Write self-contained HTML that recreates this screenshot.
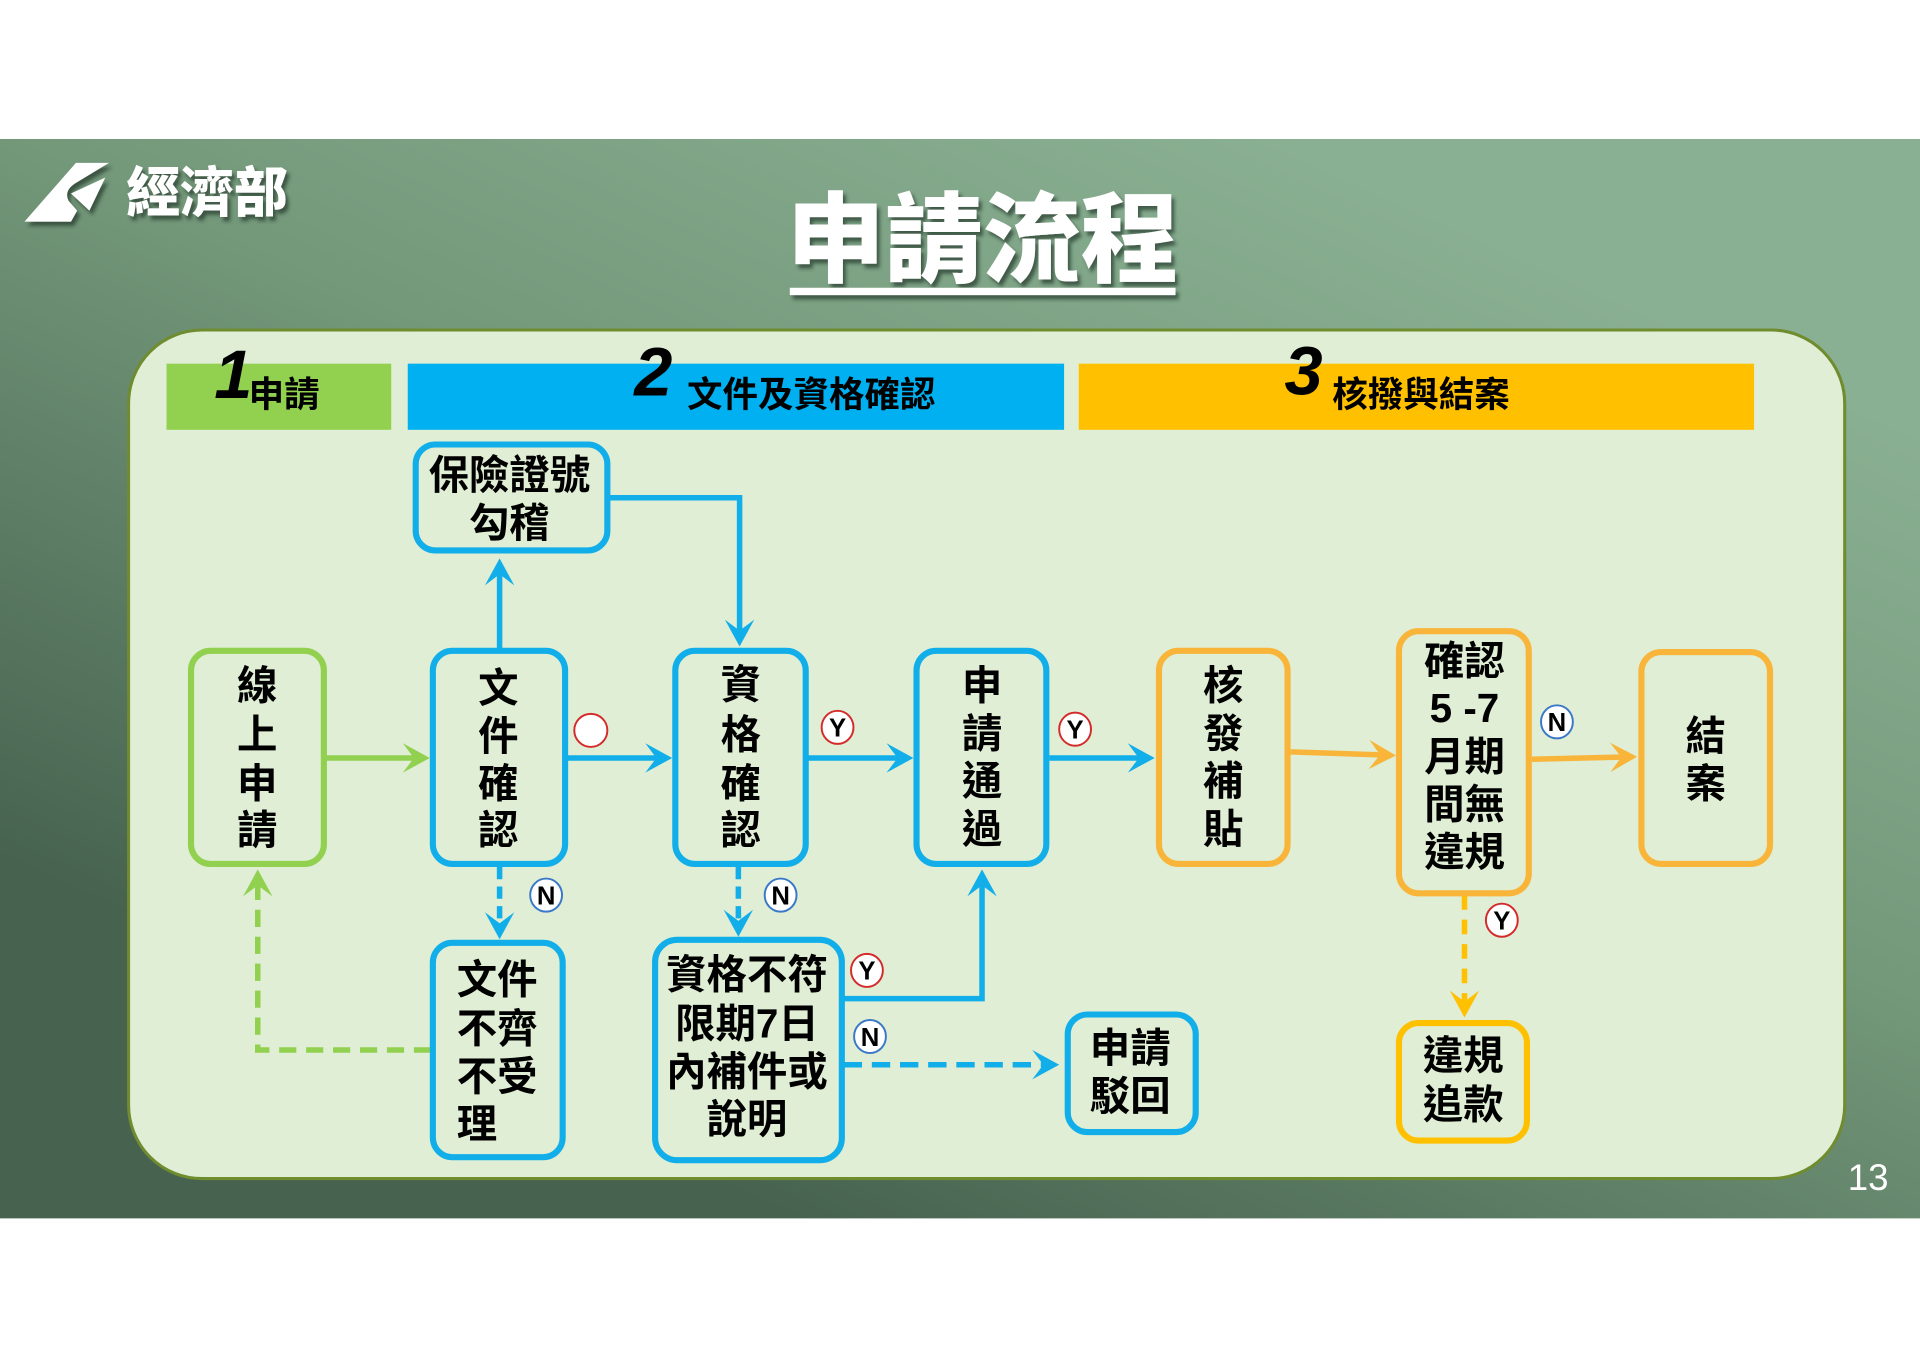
<!DOCTYPE html>
<html><head><meta charset="utf-8">
<style>
html,body{margin:0;padding:0;background:#fff;}
svg{display:block;}
.t{font-family:"Liberation Sans","Noto Sans CJK TC",sans-serif;font-weight:700;font-size:33px;text-anchor:middle;dominant-baseline:central;fill:#000;}
.tl{font-family:"Liberation Sans","Noto Sans CJK TC",sans-serif;font-weight:700;font-size:33px;text-anchor:start;dominant-baseline:central;fill:#000;}
.h{font-family:"Liberation Sans","Noto Sans CJK TC",sans-serif;font-weight:700;font-size:29px;text-anchor:start;dominant-baseline:central;fill:#000;}
.num{font-family:"Liberation Sans",sans-serif;font-weight:700;font-style:italic;font-size:56px;fill:#000;}
.yn{font-family:"Liberation Sans",sans-serif;font-weight:700;font-size:21px;text-anchor:middle;dominant-baseline:central;fill:#000;}
</style></head>
<body>
<svg width="1920" height="1357" viewBox="0 0 1568 1108.2" xmlns="http://www.w3.org/2000/svg">
<defs>
  <linearGradient id="bg" gradientUnits="userSpaceOnUse" x1="1050" y1="113" x2="650" y2="995">
    <stop offset="0" stop-color="#8ab093"/>
    <stop offset="0.45" stop-color="#739779"/>
    <stop offset="1" stop-color="#476350"/>
  </linearGradient>
  <filter id="sh" x="-10%" y="-20%" width="130%" height="150%">
    <feDropShadow dx="2.5" dy="3.5" stdDeviation="1.6" flood-color="#1d3322" flood-opacity="0.65"/>
  </filter>
  <marker id="mb" markerUnits="userSpaceOnUse" viewBox="-24 -13 26 26" refX="-10" refY="0" markerWidth="26" markerHeight="26" orient="auto">
    <path d="M0 0L-22 -12L-13 0L-22 12Z" fill="#12aeea"/></marker>
  <marker id="mg" markerUnits="userSpaceOnUse" viewBox="-24 -13 26 26" refX="-10" refY="0" markerWidth="26" markerHeight="26" orient="auto">
    <path d="M0 0L-22 -12L-13 0L-22 12Z" fill="#92d050"/></marker>
  <marker id="mo" markerUnits="userSpaceOnUse" viewBox="-24 -13 26 26" refX="-10" refY="0" markerWidth="26" markerHeight="26" orient="auto">
    <path d="M0 0L-22 -12L-13 0L-22 12Z" fill="#f8b53a"/></marker>
  <marker id="my" markerUnits="userSpaceOnUse" viewBox="-24 -13 26 26" refX="-10" refY="0" markerWidth="26" markerHeight="26" orient="auto">
    <path d="M0 0L-22 -12L-13 0L-22 12Z" fill="#ffc000"/></marker>
</defs>

<!-- background band -->
<rect x="0" y="0" width="1568" height="1108.2" fill="#fff"/>
<rect x="0" y="113.5" width="1568" height="881.5" fill="url(#bg)"/>

<!-- logo -->
<g filter="url(#sh)" fill="#fff">
  <path d="M62 133 L89 133 L61 150 Q52 156 56 164 L63 172 L58 181 L20 181 Z"/>
  <path d="M58 158 L86 145 L73 172 Z"/>
  <text x="103" y="158" style="font-family:'Liberation Sans','Noto Sans CJK TC',sans-serif;font-weight:900;font-size:44px;dominant-baseline:central;fill:#fff;">經濟部</text>
</g>

<!-- title -->
<g filter="url(#sh)">
  <text x="802.5" y="196" style="font-family:'Liberation Sans','Noto Sans CJK TC',sans-serif;font-weight:900;font-size:80px;text-anchor:middle;dominant-baseline:central;fill:#fff;">申請流程</text>
  <rect x="645" y="235" width="315" height="6" fill="#fff"/>
</g>

<!-- panel -->
<rect x="105" y="269.5" width="1401.5" height="693" rx="60" ry="60" fill="#dfeed4" stroke="#6f8c2f" stroke-width="2.5"/>

<!-- header bars -->
<rect x="136" y="297" width="183.5" height="54" fill="#92d050"/>
<rect x="333" y="297" width="536" height="54" fill="#00b0f0"/>
<rect x="881" y="297" width="551.5" height="54" fill="#ffc000"/>
<text class="num" x="175" y="325">1</text>
<text class="h" x="203" y="322">申請</text>
<text class="num" x="518" y="323">2</text>
<text class="h" x="561" y="322">文件及資格確認</text>
<text class="num" x="1049" y="322">3</text>
<text class="h" x="1088" y="322">核撥與結案</text>

<!-- connectors -->
<g fill="none" stroke-width="4.5" stroke-linejoin="miter">
  <path d="M265 619 H341" stroke="#92d050" marker-end="url(#mg)"/>
  <path d="M462 619 H539" stroke="#12aeea" marker-end="url(#mb)"/>
  <path d="M659 619 H736" stroke="#12aeea" marker-end="url(#mb)"/>
  <path d="M857 619 H933" stroke="#12aeea" marker-end="url(#mb)"/>
  <path d="M1054 614 L1130 616.6" stroke="#f8b53a" marker-end="url(#mo)"/>
  <path d="M1251 620 L1327 618.2" stroke="#f8b53a" marker-end="url(#mo)"/>
  <path d="M408 531 V466" stroke="#12aeea" marker-end="url(#mb)"/>
  <path d="M498 406.5 H604 V518" stroke="#12aeea" marker-end="url(#mb)"/>
  <path d="M408 708 V757" stroke="#12aeea" stroke-dasharray="10 6" marker-end="url(#mb)"/>
  <path d="M603 708 V755" stroke="#12aeea" stroke-dasharray="10 6" marker-end="url(#mb)"/>
  <path d="M352 857.5 H210.5 V720" stroke="#92d050" stroke-dasharray="14 8" marker-end="url(#mg)"/>
  <path d="M689 815.5 H802 V720" stroke="#12aeea" marker-end="url(#mb)"/>
  <path d="M689 869.5 H855" stroke="#12aeea" stroke-dasharray="15 8" marker-end="url(#mb)"/>
  <path d="M1196 731 V821" stroke="#ffc000" stroke-dasharray="12 8" marker-end="url(#my)"/>
</g>

<!-- boxes -->
<g fill="#dfeed4" stroke-width="5">
  <rect x="156" y="531.5" width="108.5" height="174" rx="16" stroke="#92d050"/>
  <rect x="353.5" y="531.5" width="108" height="174" rx="16" stroke="#12aeea"/>
  <rect x="551.5" y="531.5" width="106.5" height="174" rx="16" stroke="#12aeea"/>
  <rect x="748.5" y="531.5" width="106" height="174" rx="16" stroke="#12aeea"/>
  <rect x="946.5" y="531.5" width="105" height="174" rx="16" stroke="#f8b53a"/>
  <rect x="1142.5" y="515.5" width="106" height="214" rx="16" stroke="#f8b53a"/>
  <rect x="1340.5" y="532.5" width="105" height="173" rx="16" stroke="#f8b53a"/>
  <rect x="339.5" y="363" width="156.5" height="86.5" rx="16" stroke="#12aeea"/>
  <rect x="353.5" y="770" width="106" height="175" rx="16" stroke="#12aeea"/>
  <rect x="535" y="767.5" width="152.5" height="180" rx="18" stroke="#12aeea"/>
  <rect x="872" y="828.5" width="104.5" height="96" rx="16" stroke="#12aeea"/>
  <rect x="1142.5" y="835.5" width="104.5" height="96" rx="16" stroke="#ffc000"/>
</g>

<!-- box text -->
<g>
  <text class="t" x="210" y="560">線</text>
  <text class="t" x="210" y="600">上</text>
  <text class="t" x="210" y="640">申</text>
  <text class="t" x="210" y="678">請</text>

  <text class="t" x="407" y="562">文</text>
  <text class="t" x="407" y="601">件</text>
  <text class="t" x="407" y="640">確</text>
  <text class="t" x="407" y="678">認</text>

  <text class="t" x="605" y="559">資</text>
  <text class="t" x="605" y="600">格</text>
  <text class="t" x="605" y="640">確</text>
  <text class="t" x="605" y="678">認</text>

  <text class="t" x="802" y="560">申</text>
  <text class="t" x="802" y="599">請</text>
  <text class="t" x="802" y="638">通</text>
  <text class="t" x="802" y="677">過</text>

  <text class="t" x="999" y="560">核</text>
  <text class="t" x="999" y="599">發</text>
  <text class="t" x="999" y="638">補</text>
  <text class="t" x="999" y="677">貼</text>

  <text class="t" x="1196" y="540">確認</text>
  <text class="t" x="1196" y="578">5 -7</text>
  <text class="t" x="1196" y="618">月期</text>
  <text class="t" x="1196" y="657">間無</text>
  <text class="t" x="1196" y="696">違規</text>

  <text class="t" x="1393" y="601">結</text>
  <text class="t" x="1393" y="640">案</text>

  <text class="t" x="416" y="388">保險證號</text>
  <text class="t" x="416" y="427">勾稽</text>

  <text class="tl" x="373" y="800">文件</text>
  <text class="tl" x="373" y="840">不齊</text>
  <text class="tl" x="373" y="879">不受</text>
  <text class="tl" x="373" y="918">理</text>

  <text class="t" x="610" y="796">資格不符</text>
  <text class="t" x="610" y="836">限期7日</text>
  <text class="t" x="610" y="875">內補件或</text>
  <text class="t" x="610" y="914">說明</text>

  <text class="t" x="923" y="856">申請</text>
  <text class="t" x="923" y="895">駁回</text>

  <text class="t" x="1195" y="862">違規</text>
  <text class="t" x="1195" y="902">追款</text>
</g>

<!-- Y/N markers -->
<g stroke-width="1.6" fill="#fff">
  <ellipse cx="482.5" cy="596.5" rx="13.5" ry="13.5" stroke="#d42a2a"/>
  <ellipse cx="684" cy="594" rx="13" ry="13.5" stroke="#d42a2a"/>
  <ellipse cx="878" cy="595.5" rx="13" ry="13.5" stroke="#d42a2a"/>
  <ellipse cx="1271.5" cy="589.5" rx="13" ry="13.5" stroke="#3a78c8"/>
  <ellipse cx="446" cy="731" rx="13" ry="13.5" stroke="#3a78c8"/>
  <ellipse cx="637.5" cy="731" rx="13" ry="13.5" stroke="#3a78c8"/>
  <ellipse cx="708" cy="792.5" rx="13" ry="13.5" stroke="#d42a2a"/>
  <ellipse cx="710.5" cy="846.5" rx="13" ry="13.5" stroke="#3a78c8"/>
  <ellipse cx="1226.5" cy="751.5" rx="13" ry="13.5" stroke="#d42a2a"/>
</g>
<g>
  <text class="yn" x="684" y="595">Y</text>
  <text class="yn" x="878" y="596.5">Y</text>
  <text class="yn" x="1271.5" y="590.5">N</text>
  <text class="yn" x="446" y="732">N</text>
  <text class="yn" x="637.5" y="732">N</text>
  <text class="yn" x="708" y="793.5">Y</text>
  <text class="yn" x="710.5" y="847.5">N</text>
  <text class="yn" x="1226.5" y="752.5">Y</text>
</g>

<!-- page number -->
<text x="1509" y="972" style="font-family:'Liberation Sans',sans-serif;font-size:30px;fill:#fff;">13</text>
</svg>
</body></html>
